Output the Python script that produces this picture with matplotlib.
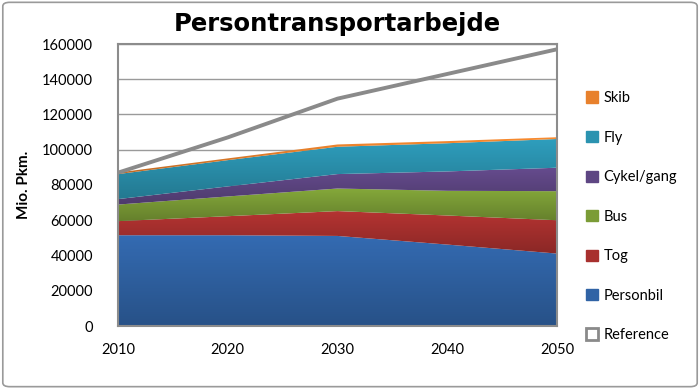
import matplotlib
matplotlib.use("Agg")
import matplotlib.pyplot as plt
from matplotlib.lines import Line2D
from matplotlib.patches import FancyBboxPatch
from matplotlib.colors import to_rgb
import numpy as np

years = [2010, 2020, 2030, 2040, 2050]
personbil = [51500, 51500, 51100, 46200, 41100]
tog = [8000, 10800, 14100, 16500, 18900]
bus = [9400, 11200, 12800, 14000, 16500]
cykel_gang = [3100, 5700, 8200, 11000, 13300]
fly = [14200, 14900, 15500, 16000, 16300]
skib = [900, 1000, 1300, 1200, 1000]
reference = [87000, 107000, 129000, 143000, 157000]

series = [personbil, tog, bus, cykel_gang, fly, skib]
labels = ["Personbil", "Tog", "Bus", "Cykel/gang", "Fly", "Skib"]
colors = ["#3063a5", "#a8302e", "#7b9c36", "#5e4683", "#2b93b0", "#e8812c"]

plt.rcParams['font.family'] = ['Lato', 'DejaVu Sans']

fig = plt.figure(figsize=(7.0, 3.89), dpi=100)
ax = fig.add_axes([118/700, 1-326/389, (557-118)/700, (326-44)/389])

polys = ax.stackplot(years, *series, colors=colors, labels=labels, zorder=2, linewidth=0)

# vertical gradient fill (lighter at top, darker at bottom) clipped to each band
cum = np.cumsum(np.array(series), axis=0)
for i, (poly, col) in enumerate(zip(polys, colors)):
    top = cum[i].max()
    bot = (cum[i - 1].min() if i > 0 else 0)
    c = np.array(to_rgb(col))
    light = np.clip(c * 1.08, 0, 1)
    dark = c * 0.82
    t = np.linspace(0, 1, 256)[:, None]
    grad = light[None, :] * (1 - t) + dark[None, :] * t
    img = np.repeat(grad[:, None, :], 2, axis=1)
    im = ax.imshow(img, extent=[2010, 2050, bot, top], origin='upper',
                   aspect='auto', zorder=2.1, interpolation='bilinear')
    im.set_clip_path(poly.get_paths()[0], transform=ax.transData)
    poly.set_alpha(0)

ax.plot(years, reference, color="#8a8a8a", lw=2.8, zorder=3, label="Reference")

ax.set_xlim(2010, 2050)
ax.set_ylim(0, 160000)
ax.set_yticks(np.arange(0, 160001, 20000))
ax.set_xticks(years)
ax.yaxis.grid(True, color="#9a9a9a", lw=1.0, zorder=0)
ax.set_axisbelow(True)
ax.tick_params(axis='both', length=0, labelsize=10.5, colors="#000000")
ax.tick_params(axis='y', pad=18)
ax.tick_params(axis='x', pad=12)
for s in ax.spines.values():
    s.set_color("#8c8c8c")
    s.set_linewidth(1.5)
    s.set_zorder(4)

ax.set_ylabel("Mio. Pkm.", fontsize=11, fontweight='bold', labelpad=8)
fig.text(337/700, 1-24/389, "Persontransportarbejde", ha='center', va='center',
         fontsize=17.5, fontweight='bold', family='DejaVu Sans')

handles = [plt.Rectangle((0, 0), 1, 1, color=c) for c in colors[::-1]]
handles.append(Line2D([], [], marker='s', markersize=8, markerfacecolor='white',
                      markeredgecolor="#8a8a8a", markeredgewidth=2, ls='none'))
leg = fig.legend(handles, labels[::-1] + ["Reference"], loc='upper left',
                 bbox_to_anchor=(573/700, 1-78/389), frameon=False,
                 fontsize=10.5, labelspacing=1.75, handlelength=0.8,
                 handleheight=0.8, handletextpad=0.4)

border = FancyBboxPatch((0.004, 0.006), 0.992, 0.988, boxstyle="round,pad=0,rounding_size=0.01",
                        transform=fig.transFigure, fill=False, edgecolor="#9a9a9a", lw=1.2)
fig.patches.append(border)

fig.savefig("out.png", dpi=100)
